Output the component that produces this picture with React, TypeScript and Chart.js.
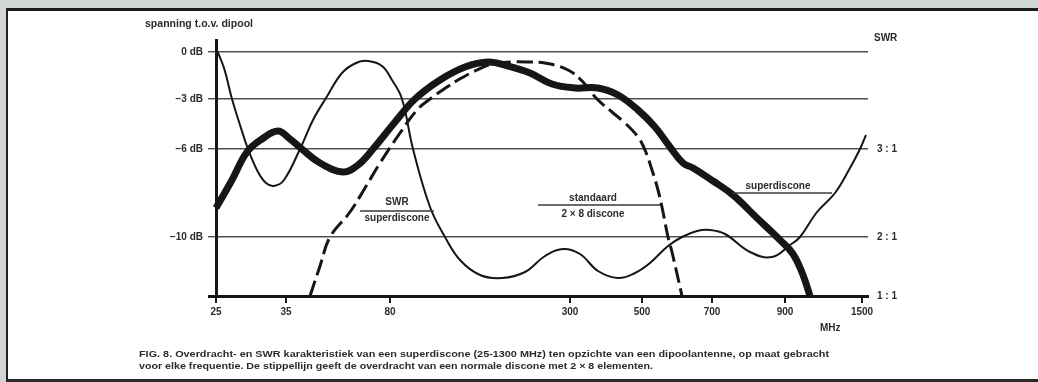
import React, { useEffect, useRef } from "react";
import { Chart, registerables } from "chart.js";
Chart.register(...registerables);

// x axis is a hand-scaled frequency axis ("op maat gebracht"): positions in axis units
const xTickPositions = [0, 70, 174, 354, 426, 496, 569, 646];
const xTickLabels = ["25", "35", "80", "300", "500", "700", "900", "1500"];
// y axis: transfer (dB, left) and SWR (right), positions in axis units
const yTickPositions = [0, 59, 147, 197, 244];
const dbLabels = ["", "−10 dB", "−6 dB", "−3 dB", "0 dB"];
const swrLabels = ["1 : 1", "2 : 1", "3 : 1", "", ""];

// superdiscone transfer (thick line)
const superX = [0, 16, 31, 46, 62, 74, 87, 104, 127, 142, 157, 179, 199, 224, 249, 272, 292, 314, 336, 359, 382, 402, 422, 439, 454, 467, 477, 497, 517, 541, 564, 577, 587, 594];
const superY = [88, 116, 144, 157, 165, 157, 146, 133, 124, 131, 147, 174, 197, 216, 229, 234, 230, 223, 212, 208, 208, 201, 186, 169, 149, 133, 128, 115, 101, 78, 56, 42, 21, 0];

// SWR superdiscone (thin line)
const swrX = [0, 8, 16, 24, 32, 42, 50, 58, 68, 84, 97, 110, 126, 140, 152, 166, 176, 186, 197, 214, 229, 244, 264, 286, 309, 329, 347, 364, 382, 402, 419, 434, 452, 466, 481, 494, 509, 534, 556, 574, 584, 601, 619, 634, 644, 650];
const swrY = [248, 228, 197, 171, 147, 124, 113, 110, 116, 147, 176, 198, 223, 233, 235, 230, 216, 197, 147, 89, 59, 36, 21, 18, 24, 40, 47, 42, 25, 18, 23, 33, 50, 59, 65, 66, 62, 44, 39, 51, 59, 84, 103, 128, 147, 161];

// standaard 2 x 8 discone (dashed line)
const stdX = [94, 104, 114, 134, 149, 164, 184, 201, 214, 231, 242, 261, 276, 294, 314, 329, 352, 367, 381, 396, 409, 422, 429, 436, 442, 447, 452, 456, 466];
const stdY = [0, 30, 59, 84, 108, 133, 163, 186, 197, 209, 216, 226, 232, 234, 234, 233, 226, 214, 197, 184, 173, 159, 146, 126, 106, 84, 59, 44, 0];

// annotations (label texts with anchor in axis units)
const annSwrLines = ["SWR", "superdiscone"];
const annSwrPos = { x: 181, yTop: 94, yLine: 85, yBottom: 78, x0: 144, x1: 218 };
const annStdLines = ["standaard", "2 × 8 discone"];
const annStdPos = { x: 377, yTop: 98, yLine: 91, yBottom: 82, x0: 322, x1: 444 };
const annSuperLabel = "superdiscone";
const annSuperPos = { x: 562, yTop: 110, yLine: 103, x0: 517, x1: 616 };

const leftTitle = "spanning t.o.v. dipool";
const rightTitle = "SWR";
const unitLabel = "MHz";
const caption1 = "FIG. 8. Overdracht- en SWR karakteristiek van een superdiscone (25-1300 MHz) ten opzichte van een dipoolantenne, op maat gebracht";
const caption2 = "voor elke frequentie. De stippellijn geeft de overdracht van een normale discone met 2 × 8 elementen.";

const FONT = "'Liberation Sans', Arial, sans-serif";
const INK = "#161616";
const TEXT = "#2b2b2b";

function zip(xs: number[], ys: number[]) {
  return xs.map((x, i) => ({ x, y: ys[i] }));
}

function fitText(ctx: CanvasRenderingContext2D, text: string, x: number, y: number, w: number) {
  const m = ctx.measureText(text).width;
  ctx.save();
  ctx.translate(x, y);
  ctx.scale(w / m, 1);
  ctx.textAlign = "left";
  ctx.fillText(text, 0, 0);
  ctx.restore();
}

const textPlugin = {
  id: "texts",
  afterDraw(chart: any) {
    const ctx: CanvasRenderingContext2D = chart.ctx;
    const xs = chart.scales.x;
    const ys = chart.scales.y;
    const px = (v: number) => xs.getPixelForValue(v);
    const py = (v: number) => ys.getPixelForValue(v);
    ctx.save();
    ctx.fillStyle = TEXT;
    ctx.textBaseline = "middle";
    ctx.font = `bold 10px ${FONT}`;

    // titles
    fitText(ctx, leftTitle, 145, 24, 108);
    ctx.textAlign = "left";
    ctx.fillText(rightTitle, 874, 38);
    ctx.fillText(unitLabel, 820, 328);

    // annotation lines
    ctx.strokeStyle = "#3a3a3a";
    ctx.lineWidth = 1.3;
    const hline = (a: number, b: number, yv: number) => {
      ctx.beginPath();
      ctx.moveTo(px(a), py(yv));
      ctx.lineTo(px(b), py(yv));
      ctx.stroke();
    };
    hline(annSwrPos.x0, annSwrPos.x1, annSwrPos.yLine);
    hline(annStdPos.x0, annStdPos.x1, annStdPos.yLine);
    hline(annSuperPos.x0, annSuperPos.x1, annSuperPos.yLine);

    ctx.textAlign = "center";
    ctx.fillText(annSwrLines[0], px(annSwrPos.x), py(annSwrPos.yTop));
    ctx.fillText(annSwrLines[1], px(annSwrPos.x), py(annSwrPos.yBottom));
    ctx.fillText(annStdLines[0], px(annStdPos.x), py(annStdPos.yTop));
    ctx.fillText(annStdLines[1], px(annStdPos.x), py(annStdPos.yBottom));
    ctx.fillText(annSuperLabel, px(annSuperPos.x), py(annSuperPos.yTop));

    // caption
    ctx.font = `bold 9.5px ${FONT}`;
    fitText(ctx, caption1, 139, 354, 690);
    fitText(ctx, caption2, 139, 366, 514);
    ctx.restore();
  },
};

export default function App() {
  const ref = useRef<HTMLCanvasElement | null>(null);

  useEffect(() => {
    const canvas = ref.current;
    if (!canvas) return;
    const setTicks = (positions: number[]) => (scale: any) => {
      scale.ticks = positions.map((v) => ({ value: v }));
    };
    const tickFont = { family: FONT, size: 10, weight: "bold" as const };
    const chart = new Chart(canvas, {
      type: "line",
      data: {
        datasets: [
          {
            label: "superdiscone",
            data: zip(superX, superY),
            borderColor: INK,
            borderWidth: 7,
            pointRadius: 0,
            tension: 0.4,
            fill: false,
            clip: false as any,
            borderJoinStyle: "round",
          },
          {
            label: "SWR superdiscone",
            data: zip(swrX, swrY),
            borderColor: INK,
            borderWidth: 2,
            pointRadius: 0,
            tension: 0.4,
            fill: false,
            clip: false as any,
          },
          {
            label: "standaard 2 × 8 discone",
            data: zip(stdX, stdY),
            borderColor: INK,
            borderWidth: 3,
            borderDash: [16, 6],
            pointRadius: 0,
            tension: 0.4,
            fill: false,
            clip: false as any,
          },
        ],
      },
      options: {
        responsive: false,
        animation: false,
        events: [],
        layout: { padding: { top: 40, left: 0, right: 0, bottom: 0 } },
        plugins: {
          legend: { display: false },
          tooltip: { enabled: false },
          title: { display: false },
        },
        scales: {
          x: {
            type: "linear",
            min: 0,
            max: 652,
            afterBuildTicks: setTicks(xTickPositions),
            afterFit: (s: any) => {
              s.height = 86;
            },
            ticks: {
              autoSkip: false,
              maxRotation: 0,
              padding: 3,
              color: TEXT,
              font: tickFont,
              callback: (_v: any, i: number) => xTickLabels[i],
            },
            grid: {
              drawOnChartArea: false,
              drawTicks: true,
              tickLength: 7,
              color: INK,
              lineWidth: 2,
            },
            border: { display: true, color: INK, width: 3 },
          },
          y: {
            type: "linear",
            position: "left",
            min: 0,
            max: 256,
            afterBuildTicks: setTicks(yTickPositions),
            afterFit: (s: any) => {
              s.width = 216;
            },
            ticks: {
              autoSkip: false,
              padding: 5,
              color: TEXT,
              font: tickFont,
              callback: (_v: any, i: number) => dbLabels[i],
            },
            grid: {
              color: (c: any) => (c.tick && c.tick.value === 0 ? INK : "#505050"),
              lineWidth: (c: any) => (c.tick && c.tick.value === 0 ? 3 : 1.4),
              tickLength: 8,
            },
            border: { display: true, color: INK, width: 3 },
          },
          y2: {
            type: "linear",
            position: "right",
            min: 0,
            max: 256,
            afterBuildTicks: setTicks(yTickPositions),
            afterFit: (s: any) => {
              s.width = 170;
            },
            ticks: {
              autoSkip: false,
              padding: 9,
              color: TEXT,
              font: tickFont,
              callback: (_v: any, i: number) => swrLabels[i],
            },
            grid: { display: false, drawTicks: false },
            border: { display: false },
          },
        },
      },
      plugins: [textPlugin],
    });
    return () => chart.destroy();
  }, []);

  return (
    <div style={{ position: "absolute", left: 0, top: 0, width: 1038, height: 382, background: "#d0d5d5", overflow: "hidden" }}>
      <div
        style={{
          position: "absolute",
          left: 6,
          top: 8,
          width: 1060,
          height: 374,
          background: "#ffffff",
          borderTop: "3px solid #1c1c1c",
          borderLeft: "2px solid #222",
          borderBottom: "3px solid #2a2a2a",
          boxSizing: "border-box",
        }}
      />
      <canvas ref={ref} width={1038} height={382} style={{ position: "absolute", left: 0, top: 0 }} />
    </div>
  );
}
